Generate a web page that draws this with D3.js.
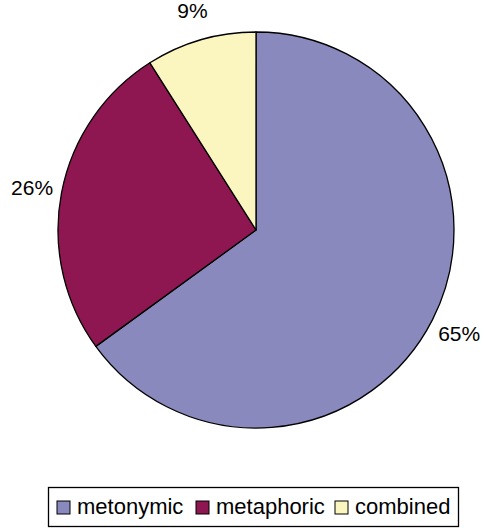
<!DOCTYPE html>
<html>
<head>
<meta charset="utf-8">
<script src="https://cdn.jsdelivr.net/npm/d3@7"></script>
<style>
  html, body { margin: 0; padding: 0; background: #fff; }
  svg { display: block; }
  text { font-family: "Liberation Sans", Arial, Helvetica, sans-serif; fill: #000; }
</style>
</head>
<body>
<svg id="chart" width="484" height="528"></svg>
<script>
// Share of metaphor types (percent)
const categories = ["metonymic", "metaphoric", "combined"];
const values = [65, 26, 9];
const colors = ["#8A89BE", "#8F1751", "#FBF6C0"];

const width = 484, height = 528;
const cx = 256, cy = 230, radius = 198, labelRadius = 228;

const svg = d3.select("#chart");
svg.append("rect").attr("width", width).attr("height", height).attr("fill", "#fff");

const data = categories.map((c, i) => ({ name: c, value: values[i], color: colors[i] }));

const pie = d3.pie().value(d => d.value).sort(null);
const arcs = pie(data);
const arc = d3.arc().innerRadius(0).outerRadius(radius);
const labelArc = d3.arc().innerRadius(labelRadius).outerRadius(labelRadius);

const g = svg.append("g").attr("transform", `translate(${cx},${cy})`);

g.selectAll("path.slice")
  .data(arcs)
  .join("path")
  .attr("class", "slice")
  .attr("d", arc)
  .attr("fill", d => d.data.color)
  .attr("stroke", "#000")
  .attr("stroke-width", 1.3)
  .attr("stroke-linejoin", "round");

g.selectAll("text.pct")
  .data(arcs)
  .join("text")
  .attr("class", "pct")
  .attr("transform", d => `translate(${labelArc.centroid(d)})`)
  .attr("text-anchor", "middle")
  .attr("dy", "0.35em")
  .attr("font-size", 21)
  .text(d => d.data.value + "%");

// Legend
const legend = svg.append("g");
legend.append("rect")
  .attr("x", 48.5).attr("y", 487.5)
  .attr("width", 410).attr("height", 39)
  .attr("fill", "#fff").attr("stroke", "#000").attr("stroke-width", 1.3);

const itemX = [57, 196, 335];
const items = legend.selectAll("g.item")
  .data(data)
  .join("g")
  .attr("class", "item")
  .attr("transform", (d, i) => `translate(${itemX[i]},0)`);

items.append("rect")
  .attr("x", 0).attr("y", 501)
  .attr("width", 13).attr("height", 13)
  .attr("fill", d => d.color)
  .attr("stroke", "#000").attr("stroke-width", 1);

items.append("text")
  .attr("x", 20).attr("y", 514)
  .attr("font-size", 22)
  .text(d => d.name);
</script>
</body>
</html>
